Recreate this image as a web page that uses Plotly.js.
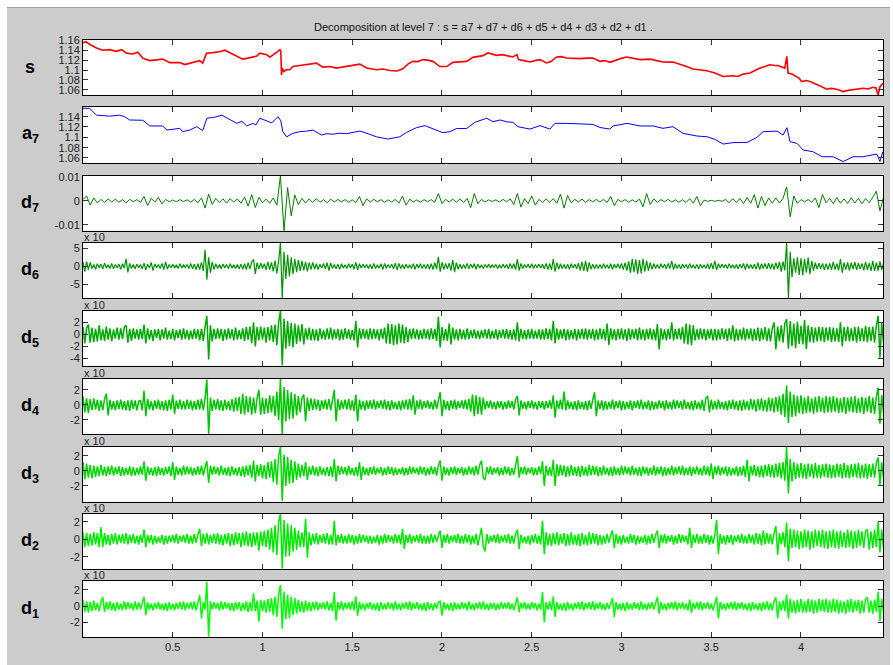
<!DOCTYPE html>
<html><head><meta charset="utf-8">
<script src="https://cdn.plot.ly/plotly-3.0.1.min.js"></script>
<style>
html,body{margin:0;padding:0;background:#fff;width:893px;height:665px;overflow:hidden}
#frame{position:absolute;left:7px;top:7px;width:883px;height:658px;border-top:1px solid #a0a0a0;}
#chart{width:883px;height:657px}
</style></head><body>
<div id="frame"><div id="chart"></div></div>
<script>
// ---------- data (x in units of 10^4 samples) ----------
const titleText = 'Decomposition at level 7 : s = a7 + d7 + d6 + d5 + d4 + d3 + d2 + d1 .';
const xTickVals = [0.5, 1, 1.5, 2, 2.5, 3, 3.5, 4];
const xTickText = ['0.5', '1', '1.5', '2', '2.5', '3', '3.5', '4'];

// signal s
const sX = [0.000,0.015,0.037,0.075,0.110,0.149,0.186,0.215,0.242,0.277,0.305,0.333,0.372,0.405,0.444,0.483,0.539,0.567,0.611,0.650,0.667,0.688,0.723,0.762,0.790,0.812,0.834,0.862,0.890,0.918,0.946,0.968,0.985,1.007,1.024,1.041,1.063,1.086,1.097,1.102,1.106,1.110,1.119,1.135,1.152,1.169,1.208,1.245,1.275,1.301,1.336,1.375,1.412,1.468,1.503,1.542,1.580,1.635,1.671,1.710,1.749,1.782,1.810,1.838,1.866,1.894,1.921,1.949,1.988,2.026,2.061,2.100,2.137,2.172,2.200,2.228,2.256,2.278,2.304,2.339,2.367,2.395,2.418,2.426,2.457,2.490,2.518,2.546,2.583,2.607,2.639,2.663,2.695,2.730,2.769,2.808,2.841,2.880,2.908,2.935,2.973,3.003,3.029,3.064,3.103,3.159,3.192,3.231,3.287,3.315,3.343,3.371,3.398,3.438,3.475,3.521,3.566,3.621,3.649,3.677,3.716,3.744,3.772,3.800,3.826,3.854,3.871,3.894,3.910,3.921,3.928,3.950,3.977,3.989,4.004,4.028,4.051,4.079,4.107,4.144,4.168,4.200,4.235,4.263,4.291,4.318,4.345,4.374,4.401,4.418,4.430,4.440,4.456];
const sY = [1.1547,1.157,1.152,1.1446,1.140,1.141,1.1377,1.141,1.134,1.1324,1.136,1.124,1.119,1.121,1.122,1.115,1.115,1.111,1.116,1.119,1.114,1.134,1.135,1.137,1.140,1.136,1.131,1.127,1.122,1.124,1.126,1.128,1.134,1.133,1.131,1.126,1.131,1.1377,1.141,1.138,1.090,1.104,1.097,1.101,1.1006,1.107,1.109,1.111,1.112,1.114,1.106,1.107,1.104,1.107,1.109,1.112,1.104,1.1006,1.102,1.099,1.098,1.1025,1.112,1.1175,1.117,1.121,1.120,1.1175,1.107,1.107,1.1155,1.116,1.1175,1.1255,1.127,1.129,1.1344,1.132,1.1296,1.131,1.128,1.1263,1.131,1.121,1.119,1.1162,1.119,1.121,1.1142,1.117,1.1263,1.127,1.1243,1.123,1.123,1.124,1.124,1.1175,1.119,1.1155,1.121,1.124,1.1263,1.124,1.121,1.122,1.119,1.1162,1.116,1.113,1.1087,1.106,1.102,1.101,1.0986,1.0939,1.087,1.0884,1.087,1.0918,1.0939,1.099,1.104,1.107,1.1107,1.109,1.109,1.106,1.104,1.1276,1.0939,1.092,1.087,1.084,1.0768,1.079,1.0768,1.073,1.068,1.0614,1.063,1.0614,1.0566,1.059,1.060,1.062,1.0634,1.062,1.0654,1.064,1.050,1.066,1.0736];

// approximation a7
const a7X = [0.000,0.037,0.075,0.110,0.149,0.205,0.232,0.260,0.333,0.372,0.444,0.467,0.539,0.556,0.594,0.634,0.667,0.690,0.734,0.773,0.818,0.857,0.885,0.912,0.946,0.963,0.985,1.024,1.052,1.086,1.102,1.113,1.135,1.169,1.208,1.245,1.281,1.329,1.358,1.392,1.431,1.468,1.503,1.542,1.598,1.635,1.698,1.765,1.803,1.858,1.905,1.949,2.005,2.044,2.081,2.137,2.183,2.249,2.284,2.323,2.362,2.395,2.423,2.490,2.546,2.601,2.629,2.695,2.769,2.841,2.880,2.935,2.953,3.031,3.103,3.176,3.231,3.287,3.343,3.421,3.476,3.521,3.566,3.621,3.699,3.755,3.789,3.867,3.900,3.922,3.939,3.978,4.012,4.068,4.118,4.179,4.235,4.291,4.345,4.423,4.440,4.456];
const a7Y = [1.1563,1.156,1.143,1.142,1.141,1.143,1.140,1.1336,1.133,1.122,1.122,1.114,1.1174,1.111,1.114,1.1206,1.113,1.137,1.139,1.143,1.1336,1.127,1.131,1.122,1.127,1.124,1.137,1.132,1.128,1.140,1.132,1.111,1.101,1.1077,1.111,1.112,1.114,1.1044,1.107,1.106,1.108,1.107,1.110,1.1122,1.1057,1.101,1.0967,1.101,1.1097,1.1187,1.1226,1.116,1.109,1.111,1.117,1.117,1.129,1.137,1.1303,1.1336,1.130,1.129,1.1206,1.116,1.1226,1.116,1.127,1.127,1.126,1.125,1.119,1.116,1.122,1.127,1.122,1.122,1.1174,1.1206,1.1077,1.1025,1.1012,1.096,1.087,1.0897,1.090,1.100,1.111,1.112,1.1044,1.1187,1.0915,1.0883,1.0754,1.072,1.0624,1.0624,1.053,1.0624,1.0624,1.0676,1.053,1.072];

// detail d7: one value every 0.02 (x 10^4) samples, 16 values per row
const d7Step = 0.02;
const d7 = [
 0.0005,0.002,-0.0018,0.0012,-0.0009,0.0006,-0.0007,0.0008,-0.0005,0.0007,-0.0006,0.0005,-0.0008,0.0006,-0.0004,0.0005,
 -0.0006,0.0018,-0.002,0.001,-0.0005,0.0014,-0.0013,0.0006,-0.0004,0.0003,-0.0004,0.0005,-0.0003,0.0004,-0.0005,0.0006,
 -0.0008,0.0012,-0.003,0.0028,-0.0015,0.001,-0.0007,0.0008,-0.001,0.0009,-0.0006,0.0008,-0.001,0.0015,-0.0022,0.0026,
 -0.0028,0.0015,-0.0008,0.0007,-0.001,0.0012,-0.0018,0.0104,-0.0124,0.0055,-0.0062,0.0024,-0.0016,0.001,-0.0009,0.0008,
 -0.0007,0.0009,-0.0006,0.0005,-0.0008,0.0007,-0.0005,0.0006,-0.0004,0.0005,-0.0006,0.0004,-0.0007,0.0018,-0.002,0.0008,
 -0.0005,0.0006,-0.0004,0.0005,-0.0006,0.0004,-0.0005,0.0006,-0.001,0.002,-0.0018,0.0007,-0.0005,0.0004,-0.0006,0.0005,
 -0.0004,0.0005,-0.0006,0.003,-0.0012,0.0006,-0.0005,0.0007,-0.0006,0.0008,-0.0007,0.001,-0.0028,0.003,-0.0012,0.0006,
 -0.0005,0.0004,-0.0003,0.0004,-0.0005,0.0006,-0.0004,0.0008,-0.0015,0.003,-0.0026,0.0009,-0.0012,0.002,-0.0018,0.0006,
 -0.0007,0.0008,-0.0006,0.0009,-0.001,0.0028,-0.003,0.0022,-0.0008,0.0006,-0.0005,0.0007,-0.0006,0.0005,-0.0004,0.0006,
 -0.0005,0.0006,-0.0007,0.0018,-0.002,0.0006,-0.0004,0.0005,-0.0006,0.0004,-0.0005,0.0007,-0.0025,0.003,-0.0015,0.0008,
 -0.0006,0.0005,-0.0004,0.0006,-0.0005,0.0004,-0.0006,0.0005,-0.0007,0.0009,-0.001,0.0018,-0.002,0.0003,-0.0002,0.0002,
 -0.0002,0.0002,-0.0002,0.0006,-0.0008,0.0009,-0.0007,0.001,-0.0012,0.0014,-0.001,0.0026,-0.003,0.0018,-0.002,0.0012,
 -0.001,0.0012,-0.0009,0.001,0.0058,-0.0066,0.002,-0.001,0.0005,-0.0004,0.0005,-0.0006,0.0012,-0.0028,0.0026,-0.0008,
 0.001,-0.0012,0.0014,-0.001,0.0008,-0.0011,0.0013,-0.0009,0.001,-0.0012,0.0009,-0.0008,0.0015,0.004,-0.0042,0.0015];

// details d6..d1 (units of 10^-3): one value every 0.01 (x 10^4) samples, 32 values per row
const dStep = 0.01;
const d6 = [
 1.2,-1.5,1.4,-0.9,1.1,-0.6,0.5,-0.8,0.7,-0.4,0.6,-0.7,0.9,-0.5,0.4,-0.6,0.8,-0.7,0.5,-0.4,0.6,-0.8,0.7,-0.5,2.1,-1.7,0.8,-0.6,0.5,-0.7,0.6,-0.4,
 0.5,-0.7,0.9,-1.0,0.6,-0.5,1.1,-1.2,0.7,-0.4,0.5,-0.6,0.8,-0.9,1.2,-0.8,0.5,-0.4,0.6,-0.5,0.4,-0.6,0.7,-0.5,0.4,-0.3,0.5,-0.6,0.8,-0.7,0.6,-0.9,
 0.7,-0.9,1.1,-1.3,4.6,-3.7,2.5,-1.8,1.2,-0.9,0.7,-0.6,0.5,-0.7,0.6,-0.4,0.5,-0.6,0.7,-0.5,0.4,-0.6,0.5,-0.7,0.6,-0.8,0.7,-0.9,1.0,-0.8,1.2,1.9,
 -2.1,1.0,-0.8,0.9,-0.6,0.7,-1.0,1.2,-0.9,1.1,-1.4,1.6,-2.0,1.5,6.5,-8.8,4.0,-3.5,3.2,-2.8,2.5,-2.2,2.0,-1.6,1.8,-1.3,1.5,-1.1,1.2,-1.4,1.0,-0.9,
 1.1,-0.8,0.7,-0.9,0.6,-0.5,0.8,-0.7,1.0,-1.2,0.9,-0.6,0.5,-0.7,0.6,-0.8,0.7,-0.5,0.4,-0.6,0.7,-0.5,0.6,-0.8,1.1,-1.0,0.7,-0.5,0.6,-0.4,0.5,-0.6,
 0.5,-0.7,0.8,-0.6,0.4,-0.5,0.7,-0.9,0.8,-0.6,0.5,-0.4,0.6,-0.7,0.9,-1.0,0.8,-0.6,0.5,-0.7,0.6,-0.5,0.4,-0.6,0.7,-0.8,0.6,-0.5,0.7,-0.6,0.5,-0.7,
 0.6,-0.8,0.7,-0.9,1.0,-0.8,2.6,-1.5,1.1,-0.9,0.8,-0.7,0.9,-1.2,1.8,-1.6,1.0,-0.8,0.6,-0.7,0.5,-0.6,0.8,-0.7,0.6,-0.5,0.7,-0.8,0.6,-0.5,0.4,-0.6,
 0.5,-0.4,0.6,-0.5,0.4,-0.3,0.5,-0.6,0.4,-0.5,0.6,-0.4,0.5,-0.7,0.8,-0.6,0.7,-0.9,2.0,-1.2,0.8,-0.6,0.5,-0.4,0.6,-0.5,0.7,-0.6,0.5,-0.4,0.6,-0.5,
 0.6,-0.7,0.8,-0.9,0.7,-1.0,2.0,-1.5,1.0,-0.8,0.7,-0.6,0.5,-0.7,0.6,-0.8,0.7,-0.5,0.6,-0.7,0.9,-1.1,1.2,-1.3,1.5,-1.5,1.1,-0.8,0.6,-0.7,0.5,-0.6,
 0.5,-0.6,0.7,-0.5,0.4,-0.6,0.7,-0.8,0.6,-0.5,0.7,-0.6,0.8,-0.9,1.0,-1.2,1.4,-1.8,2.0,-1.6,1.9,-2.1,1.7,-2.0,2.1,-1.5,1.6,-1.2,1.0,-0.8,0.7,-0.6,
 0.5,-0.6,0.7,-0.5,0.6,-0.7,0.8,-0.6,1.5,-0.9,0.7,-0.6,0.5,-0.7,0.6,-0.4,0.5,-0.6,0.7,-0.5,0.4,-0.6,0.5,-0.7,0.6,-0.5,0.4,-0.6,0.7,-0.8,0.9,-0.7,
 1.5,-1.0,0.7,-0.5,0.6,-0.4,0.5,-0.6,0.7,-0.5,0.4,-0.6,0.5,-0.7,0.6,-0.5,0.8,-0.9,0.7,-0.6,0.5,-0.7,0.6,-0.8,1.0,-0.9,0.7,-0.6,0.8,-0.7,0.9,-0.8,
 0.7,-0.9,1.0,-0.8,1.2,-1.5,1.3,-1.1,6.5,-8.8,4.0,-3.0,2.2,-1.8,2.5,-2.4,2.2,-2.5,2.0,-1.8,2.4,-2.2,1.5,-1.2,1.0,-0.8,0.9,-0.7,0.8,-1.0,0.7,-0.9,
 0.8,-1.0,1.2,-0.9,0.7,-1.1,2.0,-1.8,1.0,-0.9,1.1,-1.2,1.0,-0.8,1.2,-1.0,0.9,-0.7,0.8,-1.1,1.2,-1.0,0.9,-1.3,1.5,-1.3,1.0,-1.2,1.4,-1.0,0.9,-0.8];
const d5 = [
 1.2,-1.5,1.0,1.6,-1.4,1.1,-1.3,0.9,-1.2,1.5,-1.0,0.8,-1.1,1.3,-0.9,1.0,-1.2,0.8,-0.7,1.1,-0.9,1.0,-0.8,1.2,1.5,-1.4,0.9,-1.1,1.0,-0.7,0.8,-0.9,
 0.9,-0.8,1.6,-1.5,1.0,-0.9,0.7,-1.1,0.8,-0.6,0.9,-1.0,0.8,-0.7,1.1,-0.9,0.6,-0.8,0.9,-1.0,0.7,-0.6,0.8,-0.9,1.0,-0.8,0.7,-0.9,0.6,-0.8,0.9,-0.7,
 0.8,-1.0,0.9,-1.1,1.2,3.05,-4.2,1.5,-1.2,0.9,-0.8,1.0,-0.7,0.9,-1.1,0.8,-0.9,1.0,-0.7,0.8,-1.0,1.1,-0.9,0.7,-0.8,1.0,-1.1,1.2,-0.9,1.3,-1.5,2.0,
 -2.0,1.2,-1.0,1.3,-0.9,1.1,-1.4,1.2,-1.0,1.5,-1.3,1.6,-1.8,2.0,3.9,-5.2,2.6,-2.4,2.2,-2.0,1.9,-2.2,1.8,-1.6,1.5,-1.2,1.7,-1.7,1.0,-0.9,1.1,-1.0,
 0.9,-1.0,0.8,-1.1,1.0,-0.8,0.7,-0.9,1.0,-0.8,1.1,-0.9,0.8,-0.7,0.9,-1.0,0.8,-0.9,1.0,-0.7,0.8,-0.9,0.7,-1.0,2.2,-2.2,1.0,-0.8,0.9,-0.7,0.8,-0.9,
 1.0,-0.8,0.9,-0.7,0.8,-1.0,0.9,-0.8,1.1,-1.5,1.8,-1.6,1.7,-1.8,1.5,-1.7,1.8,-1.4,1.6,-1.5,1.2,-1.3,0.9,-0.8,1.0,-0.7,0.8,-0.9,0.7,-0.8,0.9,-0.7,
 0.8,-0.9,1.0,-0.8,0.9,-1.1,2.9,-2.2,1.2,-1.0,0.9,-1.1,1.8,-1.7,1.1,-0.9,0.8,-1.0,0.9,-0.8,0.7,-0.9,1.0,-0.8,0.7,-0.6,0.8,-0.7,0.6,-0.8,0.7,-0.6,
 0.8,-0.7,0.9,-0.8,0.6,-0.7,0.8,-0.9,0.7,-0.6,0.8,-0.7,0.9,-0.8,0.7,-0.9,0.8,-1.0,2.0,-1.2,0.9,-0.8,0.7,-0.9,0.8,-0.7,0.9,-0.8,0.6,-0.7,0.8,-0.9,
 0.8,-0.9,1.0,-0.8,0.9,-1.0,2.2,-1.5,1.0,-0.9,0.8,-0.7,0.9,-1.0,0.8,-0.9,0.7,-0.8,0.9,-1.0,0.8,-0.7,0.9,-0.8,1.0,-0.9,0.8,-0.7,0.9,-1.0,0.8,-0.9,
 1.0,-0.8,0.9,-1.0,1.8,-1.8,1.0,-0.9,0.8,-1.0,0.9,-0.8,1.0,-0.9,0.8,-1.1,1.0,-0.9,0.8,-0.7,0.9,-1.0,1.1,-0.9,0.8,-1.0,0.9,-0.8,1.0,-0.9,0.8,-1.0,
 1.7,-2.5,1.0,-0.9,0.8,-1.0,0.9,-0.8,2.0,-1.0,0.9,-0.8,1.0,-0.9,1.2,-1.5,1.8,-1.7,1.6,-1.8,1.5,-1.0,0.8,-0.9,1.0,-0.8,0.9,-1.0,0.8,-0.7,0.9,-1.0,
 0.9,-1.0,0.8,-0.9,1.0,-0.8,0.9,-1.1,1.0,-0.9,1.5,-1.2,0.9,-1.0,0.8,-0.9,1.1,-1.0,0.9,-0.8,1.0,-1.1,0.9,-1.0,1.1,-1.2,1.0,-0.9,1.2,-1.1,1.0,-1.2,
 1.0,2.0,-2.5,1.3,-1.2,1.5,-1.4,1.8,2.5,-2.4,2.2,-2.0,1.8,-2.3,2.1,-1.6,1.4,-1.7,2.4,-2.5,1.5,-1.3,1.2,-1.4,1.1,-1.2,1.3,-1.1,1.2,-1.3,1.1,-1.0,
 1.2,-1.3,1.1,-1.2,1.0,-1.3,2.0,-2.0,1.2,-1.1,1.3,-1.2,1.0,-1.1,1.2,-1.4,1.3,-1.1,1.0,-1.2,1.4,-1.3,1.2,-1.1,1.3,-1.4,1.5,3.05,-3.9,2.0,-1.5,1.2];
const d4 = [
 1.2,-1.0,0.9,-1.1,0.8,-0.7,0.9,-0.6,0.7,-0.8,0.6,-0.7,0.8,1.5,-1.4,0.7,-0.6,0.5,-0.7,0.6,-0.5,0.7,-0.6,0.5,-0.7,0.6,-0.8,0.7,-0.5,0.6,-0.7,0.5,
 0.6,-0.7,1.9,-1.5,0.8,-0.6,0.5,-0.7,0.6,-0.5,0.7,-0.6,0.5,-0.7,0.6,-0.8,0.7,-0.6,1.4,-1.2,0.6,-0.5,0.7,-0.6,0.5,-0.6,0.7,-0.5,0.6,-0.7,0.5,-0.6,
 0.7,-0.6,0.8,-0.7,0.9,3.4,-3.9,1.0,-0.8,0.7,-0.6,0.8,-0.7,0.6,-0.8,0.7,-0.6,0.5,-0.7,0.8,-0.9,1.0,-0.8,1.1,-1.2,1.5,-1.3,1.2,-1.0,1.1,-1.3,1.0,
 -1.1,0.9,2.0,-1.3,1.0,-1.2,0.9,-1.1,1.3,-1.0,1.2,-1.5,1.8,-2.0,3.5,-3.9,2.4,-2.2,2.0,-1.9,1.7,-1.8,1.5,-1.4,1.2,-1.0,0.9,1.4,-2.2,1.0,-0.8,0.9,
 -0.7,0.8,-0.6,0.7,-0.8,0.6,-0.5,0.7,-0.6,0.8,-0.7,0.9,2.0,-2.2,0.8,-0.7,0.6,-0.5,0.7,-0.6,0.8,-0.7,0.6,-0.8,1.4,-2.2,0.7,-0.6,0.5,-0.7,0.6,-0.5,
 0.6,-0.5,0.7,-0.6,0.5,-0.4,0.6,-0.5,0.7,-0.6,0.5,-0.7,0.6,-0.5,0.4,-0.6,0.5,-0.7,0.6,-0.5,0.7,-0.6,0.8,-0.7,1.3,-1.3,0.6,-0.5,0.7,-0.6,0.5,-0.4,
 0.6,-0.5,0.4,-0.6,0.7,-0.5,0.6,1.7,-1.5,0.7,-0.6,0.5,-0.7,0.6,-0.5,0.7,-0.6,0.5,-0.4,0.6,-0.5,0.7,-0.6,0.8,-0.9,1.4,-1.5,1.3,-1.2,1.1,-1.3,1.0,
 -0.6,0.5,-0.4,0.6,-0.5,0.4,-0.6,0.5,-0.4,0.5,-0.6,0.4,-0.5,0.6,-0.4,0.5,-0.6,0.7,1.2,-1.4,0.6,-0.5,0.4,-0.6,0.5,-0.4,0.6,-0.5,0.4,-0.6,0.5,-0.4,
 0.5,-0.6,0.5,-0.4,0.6,-0.5,1.3,-1.7,0.6,-0.5,0.7,-0.6,1.8,-0.7,0.6,-0.5,0.4,-0.6,0.5,-0.7,0.6,-0.5,0.4,-0.6,0.5,-0.7,0.6,-0.5,0.7,1.7,-1.5,0.6,
 -0.5,0.6,-0.7,0.5,-0.6,0.4,-0.5,0.7,-0.6,0.5,-0.4,0.6,-0.7,0.5,-0.6,0.4,-0.5,0.6,-0.7,0.5,-0.4,0.6,-0.5,0.7,-0.6,0.4,-0.5,0.6,-0.7,0.5,-0.6,0.4,
 -0.5,0.6,-0.4,0.5,-0.7,0.6,-0.5,0.4,-0.6,0.7,-0.5,0.6,-0.4,0.5,-0.6,0.7,-0.5,0.4,-0.6,0.5,-0.7,0.6,-0.5,0.4,-0.6,0.7,-0.8,0.9,1.2,-1.0,0.7,-0.6,
 0.5,-0.6,0.7,-0.5,0.4,-0.6,0.5,-0.7,0.6,-0.5,0.7,-0.6,0.5,-0.7,0.6,-0.8,0.7,-0.6,0.5,-0.7,0.8,-0.6,0.7,-0.9,0.8,-0.7,0.9,-0.8,0.7,-0.9,1.0,-0.8,
 0.9,-1.0,1.1,-0.9,1.2,-1.3,1.5,-1.6,2.6,-2.4,1.8,-1.6,1.4,-1.5,1.2,-1.1,1.3,-1.2,1.0,-1.1,1.2,-1.0,0.9,-1.2,1.1,-1.0,1.2,-0.9,1.0,-1.1,1.2,-1.0,
 1.1,-1.0,1.2,-0.9,1.0,-1.1,0.9,-1.0,1.1,-1.2,1.0,-0.9,1.1,-1.0,1.2,-1.1,0.9,-1.0,1.1,-1.2,1.0,-0.9,1.2,-1.1,1.0,-1.2,1.1,2.3,-2.5,1.3,-1.1,1.0];
const d3 = [
 1.2,-1.1,1.0,-0.9,0.8,-1.0,0.7,-0.8,0.6,-0.7,0.8,-0.6,0.5,-0.7,0.6,-0.5,0.7,-0.6,0.5,-0.4,0.6,-0.7,0.5,-0.6,0.4,-0.5,0.6,-0.7,0.5,-0.6,0.4,-0.5,
 0.6,-0.5,1.3,-1.3,0.6,-0.5,0.4,-0.6,0.5,-0.7,0.6,-0.5,0.4,-0.6,0.5,-0.4,0.6,-0.7,1.2,-1.2,0.6,-0.5,0.4,-0.6,0.7,-0.5,0.6,-0.4,0.5,-0.6,0.4,-0.5,
 0.6,-0.5,0.7,-0.6,0.5,1.3,-1.6,0.7,-0.5,0.6,-0.4,0.5,-0.6,0.7,-0.5,0.4,-0.6,0.5,-0.7,0.6,-0.5,0.4,-0.6,0.5,-0.7,0.6,-0.8,0.7,-0.6,0.8,-0.9,1.4,
 -1.4,0.8,-0.7,0.9,-1.0,0.8,-1.1,1.2,-0.9,1.3,-1.5,1.6,-1.8,2.0,3.2,-4.0,2.2,-2.0,1.9,-1.7,1.5,-1.6,1.3,-1.2,1.0,-0.9,0.8,-0.7,1.2,-1.2,0.6,-0.5,
 0.7,-0.6,0.5,-0.7,0.6,-0.5,0.4,-0.6,0.5,-0.7,0.6,-0.8,1.6,-1.4,0.7,-0.5,0.6,-0.4,0.5,-0.6,0.7,-0.5,0.4,-0.6,0.5,-0.7,1.2,-1.2,0.6,-0.5,0.4,-0.6,
 0.5,-0.4,0.6,-0.5,0.4,-0.3,0.5,-0.6,0.4,-0.5,0.6,-0.4,0.5,-0.6,0.4,-0.5,0.3,-0.4,0.5,-0.6,0.4,-0.5,0.6,-0.4,0.5,-0.3,0.4,-0.5,0.6,-0.4,0.5,-0.6,
 0.4,-0.5,0.6,-0.4,0.5,-0.6,0.7,1.4,-1.3,0.6,-0.5,0.4,-0.6,0.5,-0.4,0.6,-0.5,0.4,-0.3,0.5,-0.6,0.4,-0.5,0.6,-0.4,0.5,-0.6,0.7,-0.5,0.8,1.4,-0.9,
 -1.2,0.5,-0.4,0.6,-0.5,0.4,-0.3,0.5,-0.6,0.4,-0.5,0.6,-0.4,0.5,-0.6,0.4,-0.5,0.7,2.0,-0.9,0.5,-0.4,0.6,-0.5,0.4,-0.3,0.5,-0.6,0.4,-0.5,0.6,-0.4,
 1.3,-2.0,0.7,-0.6,0.5,-0.7,1.5,-2.0,0.9,-0.7,0.8,-0.6,0.7,-0.8,0.6,-0.7,0.8,-0.6,0.5,-0.7,0.6,-0.8,0.7,-0.6,0.5,-0.7,0.8,-0.6,0.7,-0.5,0.6,-0.7,
 0.5,-0.6,0.7,-0.5,0.4,-0.6,0.5,-0.7,0.6,-0.5,0.4,-0.6,0.7,-0.5,0.6,-0.4,0.5,-0.6,0.7,-0.5,0.4,-0.6,0.5,-0.7,0.6,-0.4,0.5,-0.6,0.4,-0.5,0.7,-0.6,
 0.5,-0.4,0.6,-0.7,0.5,-0.6,0.4,-0.5,0.7,-0.6,0.5,-0.4,0.6,-0.5,0.7,-0.6,0.4,-0.5,0.6,-0.7,0.5,-0.4,0.6,-0.5,0.4,-0.6,0.7,-0.5,0.6,-0.7,1.0,-1.1,
 0.6,-0.5,0.7,-0.6,0.5,-0.4,0.6,-0.7,0.5,-0.6,0.4,-0.5,0.6,-0.7,0.5,-0.6,0.7,-0.8,1.5,-1.4,0.7,-0.6,0.8,-0.7,0.6,-0.8,0.7,-0.9,0.8,-0.7,0.9,-0.8,
 0.8,-0.9,1.0,-0.8,1.1,-1.0,1.2,-1.3,3.2,-3.0,1.6,-1.4,1.2,-1.1,1.0,-0.9,1.1,-1.0,0.9,-1.1,1.0,-0.8,0.9,-1.0,1.1,-0.9,0.8,-1.0,0.9,-0.8,1.0,-0.9,
 0.9,-1.0,0.8,-0.9,1.0,-0.8,0.9,-1.0,1.1,-0.9,0.8,-1.0,0.9,-0.8,1.0,-0.9,1.1,-1.0,0.8,-0.9,1.0,-1.1,0.9,-0.8,1.0,-0.9,1.1,1.8,-1.9,1.2,-1.0,0.9];
const d2 = [
 0.8,-0.9,0.7,-0.8,0.6,-0.7,0.8,-0.6,0.7,-0.9,1.4,-0.9,0.7,-0.6,0.5,-0.7,0.6,-0.5,0.7,-0.6,0.5,-0.4,0.6,-0.5,0.7,-0.6,0.5,-0.4,0.6,-0.5,0.4,-0.6,
 0.5,-0.4,1.1,-0.9,0.5,-0.4,0.5,-0.6,0.4,-0.5,0.3,-0.4,0.5,-0.6,0.4,-0.5,0.4,-0.3,0.5,-0.4,0.6,-0.5,0.4,-0.3,0.5,-0.4,0.6,-0.5,0.4,-0.5,0.6,-0.4,
 0.5,1.2,-0.8,0.6,-0.5,0.7,-0.6,0.5,-0.4,0.6,-0.5,0.7,-0.6,0.5,-0.7,0.6,-0.5,0.7,-0.8,0.6,-0.7,0.8,-0.6,0.7,-0.9,0.8,-0.7,0.9,-0.8,0.7,-0.9,0.8,
 -0.7,0.8,-1.3,0.9,-0.8,1.0,-0.9,1.1,-1.2,1.3,-1.5,1.6,-1.8,2.0,2.9,-3.35,2.2,-2.0,1.8,-1.9,1.6,-1.4,1.3,-1.2,1.0,-0.9,0.8,-0.9,2.3,-2.1,0.8,-0.7,
 0.6,-0.5,0.7,-0.6,0.5,-0.4,0.6,-0.5,0.7,-0.6,0.5,-0.6,2.1,-0.7,0.5,-0.4,0.6,-0.5,0.4,-0.5,0.6,-0.4,0.5,-0.6,0.4,-0.5,0.6,-0.4,0.5,-0.3,0.4,-0.5,
 0.4,-0.5,0.3,-0.4,0.5,-0.6,0.4,-0.5,0.6,-0.4,0.5,-0.3,0.4,-0.5,0.6,-0.4,0.5,-0.6,1.2,-1.1,0.5,-0.4,0.6,-0.5,0.4,-0.3,0.5,-0.4,0.6,-0.5,0.4,-0.5,
 0.4,-0.5,0.6,-0.4,0.5,-0.3,0.4,1.0,-1.0,0.5,-0.4,0.6,-0.5,0.4,-0.3,0.5,-0.4,0.6,-0.5,0.4,-0.5,0.6,-0.4,0.5,-0.6,0.4,-0.5,0.6,-0.7,0.5,1.3,-0.8,
 -1.4,0.6,-0.5,0.4,-0.3,0.5,-0.4,0.6,-0.5,0.4,-0.3,0.5,-0.4,0.6,-0.5,0.4,-0.5,0.6,1.1,-1.1,0.5,-0.4,0.3,-0.5,0.4,-0.6,0.5,-0.4,0.6,-0.5,0.4,-0.6,
 2.1,-1.7,0.8,-0.7,0.6,-0.8,0.7,-0.6,0.8,-0.7,0.6,-0.5,0.7,-0.8,0.6,-0.7,0.8,-0.6,0.5,-0.7,0.6,-0.8,0.7,-0.6,0.5,-0.7,0.8,-0.6,0.7,-0.5,0.6,-0.7,
 0.5,-0.6,0.4,-0.5,0.6,-0.4,0.5,1.0,-1.0,0.6,-0.5,0.4,-0.6,0.5,-0.4,0.3,-0.5,0.6,-0.4,0.5,-0.6,0.4,-0.5,0.3,-0.4,0.5,-0.6,0.4,-0.5,0.6,-0.4,0.5,
 1.0,-1.0,0.5,-0.4,0.6,-0.5,0.4,-0.3,0.5,-0.6,0.4,-0.5,0.6,-0.4,0.5,-0.3,0.4,-0.6,1.3,-1.0,0.5,-0.4,0.6,-0.5,0.4,-0.5,0.6,-0.4,0.5,-0.6,0.4,-0.5,
 0.5,2.2,-1.7,0.6,-0.5,0.4,-0.6,0.5,-0.4,0.5,-0.6,0.4,-0.3,0.5,-0.4,0.6,-0.5,0.4,-0.5,0.6,-0.4,0.5,-0.6,0.7,-0.5,0.6,-0.7,1.0,-0.6,0.7,-0.5,0.6,
 -0.6,0.7,1.5,-1.8,0.7,-0.6,0.8,-0.9,1.9,-2.5,1.2,-1.0,1.1,-0.9,1.0,-1.1,0.9,-1.0,1.1,-0.9,1.0,-1.2,0.9,-1.0,1.1,-0.8,1.0,-0.9,1.1,-1.0,0.9,-1.1,
 1.0,-0.9,1.1,-1.0,0.9,-1.1,1.0,-0.9,0.8,-1.0,1.1,-0.9,1.0,-1.1,0.9,-1.0,1.1,-0.8,0.9,-1.0,1.0,1.1,-1.2,0.9,-1.0,1.1,-0.9,2.0,-1.5,1.1,-1.0,0.9];
const d1 = [
 0.8,-0.7,0.6,-0.8,0.5,-0.6,0.7,-0.5,0.4,-0.6,0.5,1.15,-0.7,0.5,-0.4,0.6,-0.5,0.4,-0.6,0.5,-0.4,0.3,-0.5,0.6,-0.4,0.5,-0.3,0.4,-0.5,0.6,-0.4,0.5,
 -0.4,0.5,1.15,-1.1,0.5,-0.4,0.3,-0.5,0.4,-0.3,0.5,-0.4,0.3,-0.5,0.4,-0.6,0.5,-0.4,0.3,-0.5,0.4,-0.3,0.5,-0.4,0.6,-0.5,0.4,-0.3,0.5,-0.4,0.6,-0.5,
 0.4,1.36,-1.5,0.5,-0.4,3.0,-3.8,0.6,-0.4,0.5,-0.3,0.4,-0.5,0.6,-0.4,0.5,-0.3,0.4,-0.5,0.4,-0.6,0.5,-0.4,0.5,-0.6,0.4,-0.5,0.6,-0.7,0.5,-0.6,1.6,
 -0.6,0.7,-1.9,0.8,-0.6,0.7,-0.8,0.9,-0.7,1.0,-1.1,1.2,-1.3,1.5,2.6,-2.75,1.8,-1.6,1.4,-1.5,1.2,-1.1,1.0,-0.9,0.8,-0.7,0.6,-0.8,0.7,-0.6,0.5,-0.6,
 0.5,-0.4,0.6,-0.5,0.4,-0.3,0.5,-0.4,0.6,-0.5,0.4,-0.6,1.73,-1.77,0.5,-0.4,0.6,-0.5,0.4,-0.3,0.5,-0.4,0.6,-0.5,1.2,-1.2,0.5,-0.4,0.3,-0.5,0.4,-0.3,
 0.5,-0.4,0.3,-0.5,0.4,-0.6,0.5,-0.4,0.3,-0.4,0.5,-0.3,0.4,-0.5,0.6,-0.4,0.3,-0.5,0.4,-0.3,0.5,-0.4,0.6,-0.5,0.4,-0.3,0.5,-0.4,0.3,-0.5,0.4,-0.6,
 0.5,-0.4,0.3,-0.5,0.4,-0.3,0.5,0.6,-1.15,0.5,-0.4,0.3,-0.5,0.4,-0.6,0.5,-0.4,0.3,-0.4,0.5,-0.3,0.4,-0.5,0.6,-0.4,0.3,-0.5,0.4,-0.3,0.5,-0.4,0.6,
 -0.4,0.3,-0.5,0.4,-0.3,0.4,-0.5,0.3,-0.4,0.5,-0.3,0.4,-0.3,0.5,-0.4,0.3,-0.5,0.4,1.1,-0.74,0.4,-0.3,0.5,-0.4,0.3,-0.4,0.5,-0.3,0.4,-0.5,0.3,-0.4,
 1.73,-2.0,0.5,-0.4,0.6,-0.5,1.2,-1.3,0.5,-0.4,0.3,-0.5,0.4,-0.6,0.5,-0.4,0.3,-0.5,0.4,-0.3,0.5,-0.4,0.6,-0.5,0.4,-0.3,0.5,-0.4,0.6,-0.5,0.4,-0.3,
 0.5,-0.4,0.3,-0.5,0.4,-0.3,0.5,1.0,-1.3,0.5,-0.4,0.3,-0.5,0.4,-0.6,0.5,-0.4,0.3,-0.4,0.5,-0.3,0.4,-0.5,0.6,-0.4,0.3,-0.5,0.4,-0.3,0.5,-0.4,0.3,
 1.15,-0.9,0.5,-0.4,0.3,-0.5,0.4,-0.3,0.5,-0.4,0.6,-0.5,0.4,-0.3,0.5,-0.4,0.3,-0.5,0.8,-0.8,0.4,-0.3,0.5,-0.4,0.6,-0.5,0.4,-0.3,0.5,-0.4,0.3,-0.5,
 0.4,1.15,-1.5,0.5,-0.4,0.3,-0.5,0.4,-0.3,0.5,-0.4,0.6,-0.5,0.4,-0.3,0.5,-0.4,0.3,-0.5,0.4,-0.6,0.5,-0.4,0.3,-0.5,0.4,-0.6,0.5,-0.4,0.6,-0.5,0.4,
 -0.5,0.6,1.1,-1.5,0.6,-0.5,0.7,-0.6,1.44,-1.5,0.9,-0.8,0.7,-0.9,0.8,-0.7,0.9,-0.8,0.6,-0.8,0.9,-0.7,0.8,-0.9,0.7,-0.8,0.9,-0.6,0.8,-0.7,0.9,-0.8,
 0.7,-0.8,0.9,-0.7,0.8,-0.9,0.7,-0.8,0.6,-0.9,0.8,-0.7,0.9,-0.8,0.7,-0.6,0.8,-0.9,0.7,-0.8,0.9,1.1,-0.8,0.7,-0.9,0.8,-0.7,1.77,-1.8,0.9,-0.8,0.7];

// ---------- panel styling ----------
const d7X = d7.map((_, i) => +(i * d7Step).toFixed(4));
const dX = d1.map((_, i) => +(i * dStep).toFixed(4));
const panels = [
  {label:'<b>s</b>', x:sX, y:sY, color:'#ff0000', w:1.6, range:[1.0499,1.1605], tv:[1.06,1.08,1.1,1.12,1.14,1.16], tt:['1.06','1.08','1.1','1.12','1.14','1.16'], dom:[0.908,1.0], exp:false},
  {label:'<b>a<sub>7</sub></b>', x:a7X, y:a7Y, color:'#0000ff', w:1, range:[1.0503,1.159], tv:[1.06,1.08,1.1,1.12,1.14], tt:['1.06','1.08','1.1','1.12','1.14'], dom:[0.794,0.888], exp:false},
  {label:'<b>d<sub>7</sub></b>', x:d7X, y:d7, color:'#007f00', w:1, range:[-0.01236,0.0104], tv:[-0.01,0,0.01], tt:['-0.01','0','0.01'], dom:[0.6806,0.7727], exp:false},
  {label:'<b>d<sub>6</sub></b>', x:dX, y:d6, color:'#009400', w:1.2, range:[-8.8,6.47], tv:[-5,0,5], tt:['-5','0','5'], dom:[0.5678,0.66], exp:true},
  {label:'<b>d<sub>5</sub></b>', x:dX, y:d5, color:'#00aa00', w:1.5, range:[-5.23,3.88], tv:[-4,-2,0,2], tt:['-4','-2','0','2'], dom:[0.4544,0.5461], exp:true},
  {label:'<b>d<sub>4</sub></b>', x:dX, y:d4, color:'#00c400', w:1.5, range:[-3.87,3.47], tv:[-2,0,2], tt:['-2','0','2'], dom:[0.34,0.4322], exp:true},
  {label:'<b>d<sub>3</sub></b>', x:dX, y:d3, color:'#00d800', w:1.5, range:[-4.1,3.24], tv:[-2,0,2], tt:['-2','0','2'], dom:[0.2266,0.3188], exp:true},
  {label:'<b>d<sub>2</sub></b>', x:dX, y:d2, color:'#00ea00', w:1.5, range:[-3.4,2.88], tv:[-2,0,2], tt:['-2','0','2'], dom:[0.1139,0.206], exp:true},
  {label:'<b>d<sub>1</sub></b>', x:dX, y:d1, color:'#00ff00', w:1.5, range:[-3.78,3.1], tv:[-2,0,2], tt:['-2','0','2'], dom:[0.0,0.0938], exp:true}
];

const FONT = 'Liberation Sans, Arial, sans-serif';
const tickFont = {family: FONT, size: 11, color: '#222'};
const traces = [];
const layout = {
  width: 883, height: 657,
  paper_bgcolor: '#cccccc', plot_bgcolor: '#ffffff',
  margin: {l: 76, r: 7, t: 32, b: 28},
  showlegend: false,
  annotations: []
};
panels.forEach((p, k) => {
  const n = k + 1;
  const xs = n === 1 ? '' : String(n);
  traces.push({x: p.x, y: p.y, xaxis: 'x' + xs, yaxis: 'y' + xs, type: 'scatter', mode: 'lines',
    line: {color: p.color, width: p.w}, hoverinfo: 'skip'});
  const common = {showline: true, linecolor: '#000', linewidth: 1, mirror: 'ticks', ticks: 'inside',
    ticklen: 5, tickwidth: 1, tickcolor: '#333', showgrid: false, zeroline: false, tickfont: tickFont, fixedrange: true};
  layout['xaxis' + xs] = Object.assign({}, common, {domain: [0, 1], anchor: 'y' + xs, range: [0, 4.457],
    tickmode: 'array', tickvals: xTickVals, ticktext: xTickText, showticklabels: n === 9});
  layout['yaxis' + xs] = Object.assign({}, common, {domain: p.dom, anchor: 'x' + xs, range: p.range,
    tickmode: 'array', tickvals: p.tv, ticktext: p.tt});
  layout.annotations.push({xref: 'paper', yref: 'y' + xs + ' domain', x: -0.066, y: 0.5, xanchor: 'center', yanchor: 'middle',
    text: p.label, showarrow: false, font: {family: FONT, size: 18, color: '#000'}});
  if (p.exp) {
    layout.annotations.push({xref: 'paper', yref: 'y' + xs + ' domain', x: 0, y: 1, xanchor: 'left', yanchor: 'bottom',
      text: 'x 10', showarrow: false, font: {family: FONT, size: 11, color: '#222'}, borderpad: 0, yshift: -1});
  }
});
layout.annotations.push({xref: 'paper', yref: 'paper', x: 0.5, y: 1.0218, xanchor: 'center', yanchor: 'middle',
  text: titleText, showarrow: false, font: {family: FONT, size: 11, color: '#111'}});
layout.annotations.push({xref: 'paper', yref: 'paper', x: 0.996, y: -0.044, xanchor: 'center', yanchor: 'top',
  text: '4', showarrow: false, font: {family: FONT, size: 11, color: '#222'}});

Plotly.newPlot('chart', traces, layout, {staticPlot: true, displayModeBar: false});
</script></body></html>
